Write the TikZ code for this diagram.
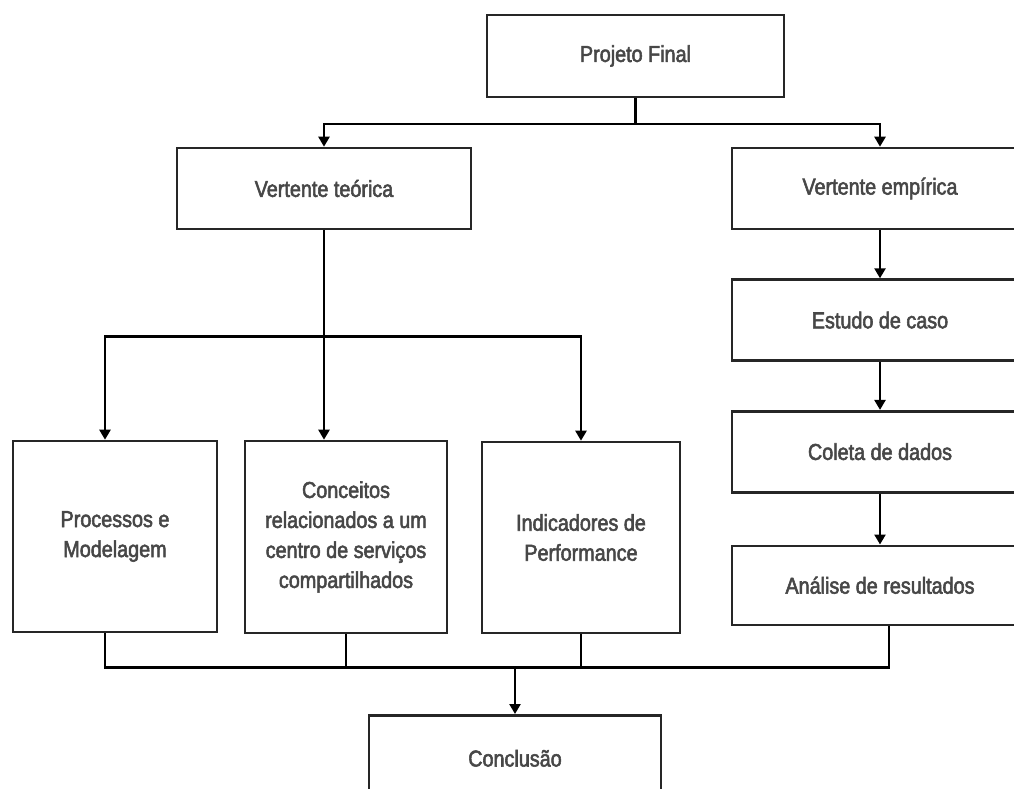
\documentclass[tikz,border=0pt]{standalone}
\usepackage{fontspec}
\setmainfont{Liberation Sans}[FakeStretch=0.86, FakeBold=2.4]
\usetikzlibrary{arrows.meta,positioning,calc}

\begin{document}
\begin{tikzpicture}[
  x=1pt, y=-1pt,
  font=\fontsize{23}{30}\selectfont,
  caixa/.style={draw=black!85, line width=2.6pt, text=black!72, align=center, inner sep=0pt},
  seta/.style={-{Triangle[length=10pt, width=11pt]}, line width=2.4pt},
  linha/.style={line width=2.4pt},
]
\path[use as bounding box, clip] (0,0) rectangle (1014,789);

% ================= topo =================
\node[caixa, minimum width=297pt, minimum height=82pt] (final) at (635.5,56) {Projeto Final};
\node[caixa, minimum width=294pt, minimum height=81pt] (teo) at (324,188.5) {Vertente teórica};
\node[caixa, minimum width=296pt, minimum height=81pt] (emp) at (880,188.5) {Vertente empírica};

% ================= vertente empirica =================
\node[caixa, minimum width=296pt, minimum height=81pt, below=48pt of emp] (est) {Estudo de caso};
\node[caixa, minimum width=296pt, minimum height=81pt, below=48pt of est] (col) {Coleta de dados};
\node[caixa, minimum width=296pt, minimum height=79pt, below=51pt of col] (ana) {Análise de resultados};

% ================= vertente teorica =================
\node[caixa, minimum width=204pt, minimum height=191pt] (proc) at (115,536.5) {Processos e\\Modelagem};
\node[caixa, minimum width=202pt, minimum height=192pt] (conc) at (346,537) {Conceitos\\relacionados a um\\centro de serviços\\compartilhados};
\node[caixa, minimum width=198pt, minimum height=191pt] (ind) at (581,537.5) {Indicadores de\\Performance};

\node[caixa, minimum width=292pt, minimum height=86pt, anchor=north] (concl) at (515,714) {Conclusão};

% ligacoes
\draw[linha] (final.south) -- ++(0,26) coordinate (topo);
\draw[seta] (topo) -| (teo.north);
\draw[seta] (topo) -| (emp.north);

\draw[linha] (teo.south) -- ++(0,106) coordinate (ramo);
\draw[seta] (ramo) -| ([xshift=-10pt]proc.north);
\draw[seta] (ramo) -- (ramo |- conc.north);
\draw[seta] (ramo) -| (ind.north);

\draw[seta] (emp) -- (est);
\draw[seta] (est) -- (col);
\draw[seta] (col) -- (ana);

% juncao final
\draw[linha] ([xshift=-10pt]proc.south) -- ++(0,34) coordinate (base) -| ([xshift=9pt]ana.south);
\draw[linha] (conc.south) -- (conc.south |- base);
\draw[linha] (ind.south) -- (ind.south |- base);
\draw[seta] (concl.north |- base) -- (concl.north);

\end{tikzpicture}
\end{document}
